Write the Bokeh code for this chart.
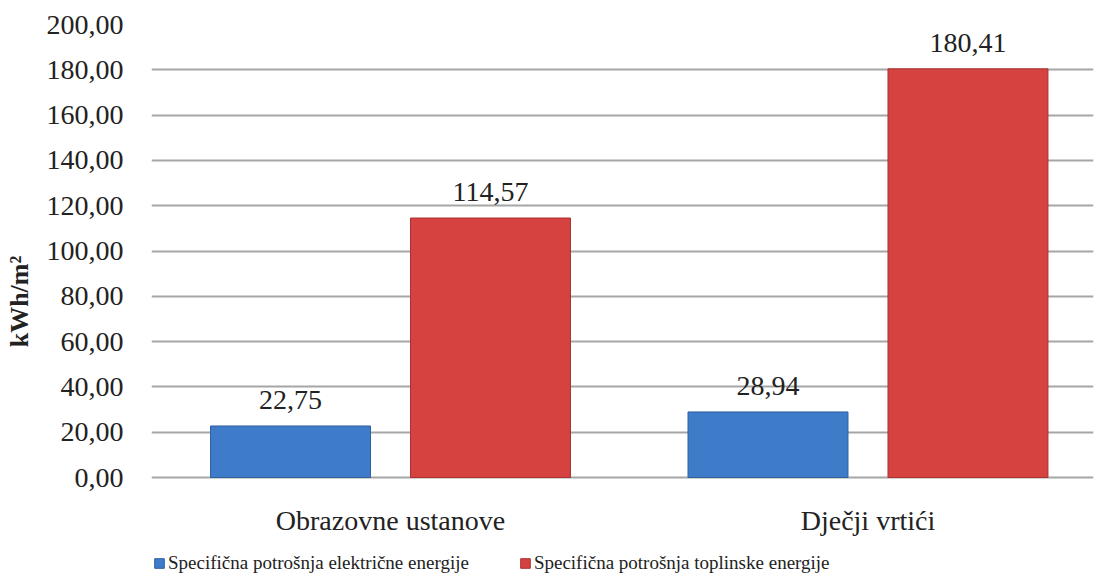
from bokeh.plotting import figure
from bokeh.models import ColumnDataSource, Legend, LegendItem, FixedTicker, Range1d, LabelSet
from bokeh.core.properties import value
from bokeh.embed import file_html
from bokeh.resources import INLINE

categories = ["Obrazovne ustanove", "Dječji vrtići"]
series_names = ["Specifična potrošnja električne energije", "Specifična potrošnja toplinske energije"]
electric = [22.75, 28.94]
thermal = [114.57, 180.41]
y_ticks = [0, 20, 40, 60, 80, 100, 120, 140, 160, 180, 200]

FONT = "Liberation Serif"
BLUE = "#3e7cc9"
BLUE_LINE = "#2f5f9e"
RED = "#d6423f"
RED_LINE = "#a83230"

cat_x = list(range(len(categories)))
offset = 0.2094
bw = 0.335

def fmt(v):
    return f"{v:.2f}".replace(".", ",")

src_e = ColumnDataSource(dict(x=[c - offset for c in cat_x], top=electric, lbl=[fmt(v) for v in electric]))
src_t = ColumnDataSource(dict(x=[c + offset for c in cat_x], top=thermal, lbl=[fmt(v) for v in thermal]))
src_c = ColumnDataSource(dict(x=cat_x, y=[0] * len(cat_x), name=categories))

p = figure(frame_width=942, frame_height=554, output_backend="svg", toolbar_location=None,
           x_range=Range1d(-0.5005, 1.4723), y_range=Range1d(-44.59, 200))
p.min_border_left = 151
p.min_border_right = 1
p.min_border_top = 24
p.min_border_bottom = 0
p.outline_line_color = None
p.background_fill_color = "white"
p.border_fill_color = "white"

r1 = p.vbar(x="x", top="top", width=bw, bottom=0, source=src_e, fill_color=BLUE, line_color=BLUE_LINE, line_width=1)
r2 = p.vbar(x="x", top="top", width=bw, bottom=0, source=src_t, fill_color=RED, line_color=RED_LINE, line_width=1)

for src in (src_e, src_t):
    p.add_layout(LabelSet(x="x", y="top", text="lbl", source=src, text_align="center",
                          text_baseline="alphabetic", y_offset=17, text_font=FONT,
                          text_font_size="28px", text_color="#222222"))

# category labels (drawn inside the extended frame, below the zero line)
p.text(x="x", y="y", text="name", source=src_c, text_align="center", text_baseline="alphabetic",
       y_offset=43, text_font=value(FONT), text_font_size="28px", text_color="#222222")

p.yaxis.ticker = FixedTicker(ticks=y_ticks)
p.yaxis.major_label_overrides = {t: fmt(t) for t in y_ticks}
p.yaxis.major_label_text_font = FONT
p.yaxis.major_label_text_font_size = "28px"
p.yaxis.major_label_text_color = "#222222"
p.yaxis.major_label_standoff = 22
p.yaxis.axis_line_color = None
p.yaxis.major_tick_line_color = None
p.yaxis.minor_tick_line_color = None
p.yaxis.axis_label = "kWh/m²"
p.yaxis.axis_label_text_font = FONT
p.yaxis.axis_label_text_font_style = "bold"
p.yaxis.axis_label_text_font_size = "26px"
p.yaxis.axis_label_text_color = "#222222"
p.yaxis.axis_label_standoff = 10

p.xaxis.visible = False
p.xgrid.grid_line_color = None
p.ygrid.grid_line_color = "#a6a6a6"
p.ygrid.grid_line_width = 2

legend = Legend(items=[LegendItem(label=series_names[0], renderers=[r1]),
                       LegendItem(label=series_names[1], renderers=[r2])],
                orientation="horizontal", location=(2, 4))
legend.label_text_font = FONT
legend.label_text_font_size = "19px"
legend.label_text_color = "#222222"
legend.glyph_width = 12
legend.glyph_height = 12
legend.label_standoff = 3
legend.spacing = 50
legend.border_line_color = None
legend.background_fill_alpha = 0
legend.margin = 0
legend.padding = 4
p.add_layout(legend, "center")

open("out.html", "w").write(file_html(p, INLINE))
